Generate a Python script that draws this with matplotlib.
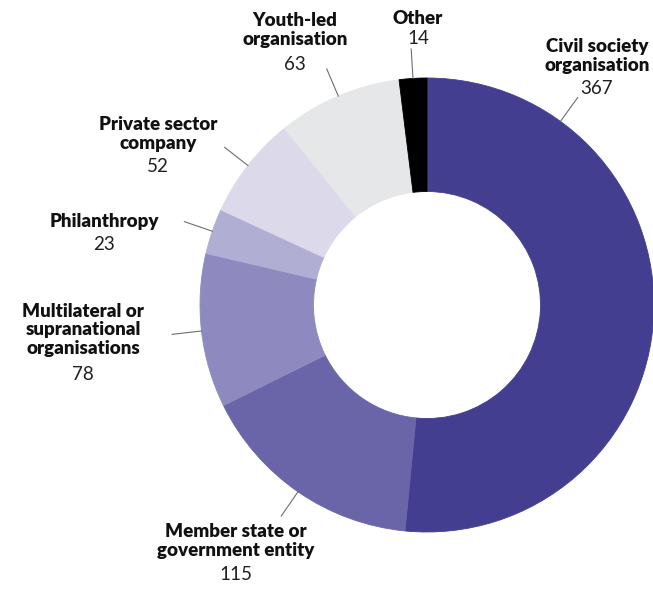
import numpy as np
import matplotlib
matplotlib.use("Agg")
import matplotlib.pyplot as plt

# ── Data (clockwise from 12 o'clock) ─────────────────────────────────────────
categories = [
    "Civil society\norganisation",
    "Member state or\ngovernment entity",
    "Multilateral or\nsupranational\norganisations",
    "Philanthropy",
    "Private sector\ncompany",
    "Youth-led\norganisation",
    "Other",
]
counts = [367, 115, 78, 23, 52, 63, 14]
colors = ["#443e90", "#6a64a8", "#8e8abf", "#b1aed4", "#dcd9eb", "#e6e7e8", "#000000"]

# label placement in pixels: (x centre, name centre y, number centre y)
label_px = [
    (597, 56, 89),
    (236, 541, 575),
    (83, 330, 374),
    (104, 222, 244),
    (158, 134, 167),
    (295, 30, 64),
    (418, 18, 39),
]
# leader line angle override (deg clockwise from top), None = slice middle
leader_angle = [36, None, None, None, None, None, None]

W, H = 653, 589
CX, CY, R = 427, 305, 227

plt.rcParams["font.family"] = ["Lato", "DejaVu Sans"]

fig = plt.figure(figsize=(W / 100, H / 100), dpi=100)
ax = fig.add_axes([0, 0, 1, 1])
ax.axis("off")

ax.pie(counts, colors=colors, startangle=90, counterclock=False, radius=1.0,
       wedgeprops=dict(width=0.5, linewidth=0.6))
for w, c in zip(ax.patches, colors):
    w.set_edgecolor(c)
ax.set_xlim(-CX / R, (W - CX) / R)
ax.set_ylim(-(H - CY) / R, CY / R)
ax.set_aspect("auto")


def px2d(x, y):
    return (x - CX) / R, (CY - y) / R


total = sum(counts)
start = 0.0
for name, n, (lx, ny, vy), la in zip(categories, counts, label_px, leader_angle):
    span = n / total * 360
    mid = start + span / 2 if la is None else la
    start += span
    a = np.deg2rad(mid)
    ax.plot([np.sin(a) * 1.0, np.sin(a) * 1.13], [np.cos(a) * 1.0, np.cos(a) * 1.13],
            color="#6d6e71", lw=0.8, zorder=1)
    x, y = px2d(lx, ny)
    ax.text(x, y, name, ha="center", va="center", fontsize=13.5, fontweight="heavy",
            color="#111111", linespacing=1.12)
    x, y = px2d(lx, vy)
    ax.text(x, y, str(n), ha="center", va="center", fontsize=13.5, fontweight="normal",
            color="#231f20")

fig.savefig("out.png", dpi=100, facecolor="white")
